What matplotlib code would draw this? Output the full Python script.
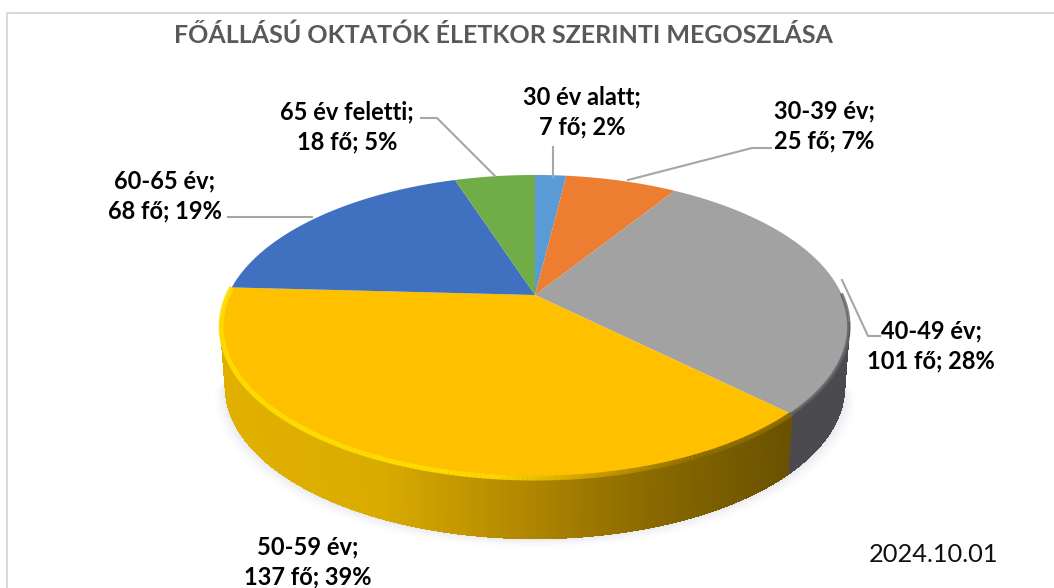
import numpy as np
import matplotlib
matplotlib.use("Agg")
import matplotlib.pyplot as plt
from matplotlib.collections import LineCollection, PolyCollection
from matplotlib.colors import LinearSegmentedColormap

plt.rcParams['font.family'] = ['Lato', 'DejaVu Sans']

title = "FŐÁLLÁSÚ OKTATÓK ÉLETKOR SZERINTI MEGOSZLÁSA"
date_text = "2024.10.01"
categories = ["30 év alatt", "30-39 év", "40-49 év", "50-59 év", "60-65 év", "65 év feletti"]
people = [7, 25, 101, 137, 68, 18]
percents = [2, 7, 28, 39, 19, 5]
colors = ["#5B9BD5", "#ED7D31", "#A2A2A2", "#FFC000", "#4070C0", "#70AD47"]

label_pos = [(582, 112), (824, 126), (931, 346), (308, 562), (165, 196), (347, 127)]
leaders = [
    [(553, 147), (553, 177)],
    [(771, 148), (752, 148), (628, 180)],
    [(880, 336), (868, 336), (842, 280)],
    None,
    [(228, 217), (312, 217)],
    [(421, 118), (437, 118), (495, 176)],
]

# pie seen in perspective, pixel coordinates of the picture
cx, cy = 533, 295
rx, ry = 307, 145
persp = 0.208
depth = 60
wall_shrink = 0.985


def project(ang, r=1.0):
    u = r * np.sin(ang)
    v = -r * np.cos(ang)
    d = 1 - persp * v
    return cx + 2 + rx * u / d, cy + ry * v / d


fig = plt.figure(figsize=(10.54, 5.88), dpi=100)
ax = fig.add_axes([0, 0, 1, 1])
ax.set_xlim(0, 1054)
ax.set_ylim(588, 0)
ax.axis("off")

# chart border
ax.plot([1054, 7, 7], [13, 13, 588], color="#D9D9D9", lw=1.5)

edges = np.concatenate([[0], np.cumsum(people)]) / np.sum(people) * 2 * np.pi

# soft shadow below the pie
front = np.linspace(np.pi * 0.56, np.pi * 1.45, 200)
fx, fy = project(front)
for grow, alpha in zip([14, 10, 7, 4, 2], [0.02, 0.03, 0.04, 0.05, 0.06]):
    ax.fill(cx + (fx - cx) * (wall_shrink + grow / 400), fy + depth + grow * 0.7, color="#8090A8", alpha=alpha, lw=0)

# side wall, shaded by angle
side_cmap = LinearSegmentedColormap.from_list("side", ["#6B5200", "#8A6A00", "#B58A00", "#D9AC00", "#E0B000"])
n = 300
wall = np.linspace(np.pi * 0.56, np.pi * 1.45, n)
wx, wy = project(wall)
bx = cx + (wx - cx) * wall_shrink
polys = []
cols = []
split = edges[3]
for i in range(n - 1):
    polys.append([(wx[i], wy[i]), (wx[i + 1], wy[i + 1]), (bx[i + 1], wy[i + 1] + depth), (bx[i], wy[i] + depth)])
    if wall[i] < split:
        cols.append("#4B4B4F")
    else:
        cols.append(side_cmap(np.clip((wx[i] - 787) / (240 - 787), 0, 1)))
ax.add_collection(PolyCollection(polys, facecolors=cols, edgecolors=cols, linewidths=1, antialiaseds=False))

# top face
for i in range(len(people)):
    ang = np.linspace(edges[i], edges[i + 1], 120)
    x, y = project(ang)
    ax.fill(np.r_[project(0, 0)[0], x], np.r_[cy, y], color=colors[i], lw=0)

# bevel along the rim
rim = np.linspace(edges[3], edges[4], 200)
rx0, ry0 = project(rim, 1.0)
segs = [[(rx0[i], ry0[i]), (rx0[i + 1], ry0[i + 1])] for i in range(len(rim) - 1)]
bright = LinearSegmentedColormap.from_list("rim", ["#8C6C00", "#C89A00", "#FFD400", "#FFDC00"])
seg_cols = [bright(np.clip((rx0[i] - 700) / (400 - 700), 0, 1)) for i in range(len(rim) - 1)]
ax.add_collection(LineCollection(segs, colors=seg_cols, linewidths=3.5))

rim = np.linspace(np.pi * 0.5, edges[3], 60)
gx, gy = project(rim, 1.0)
ax.plot(gx, gy, color="#606064", lw=2.5, alpha=0.8)

# leader lines and labels
for line in leaders:
    if line is not None:
        ax.plot(*zip(*line), color="#A6A6A6", lw=1.5)
for i, name in enumerate(categories):
    ax.text(label_pos[i][0], label_pos[i][1], f"{name};\n{people[i]} fő; {percents[i]}%",
            ha="center", va="center", fontsize=17, fontweight="bold", color="black", linespacing=1.38)

ax.text(503, 35, title, ha="center", va="center", fontsize=18, fontweight="bold", color="#595959")
ax.text(933, 555, date_text, ha="center", va="center", fontsize=18.3, color="#111111")

fig.savefig("out.png", dpi=100)
